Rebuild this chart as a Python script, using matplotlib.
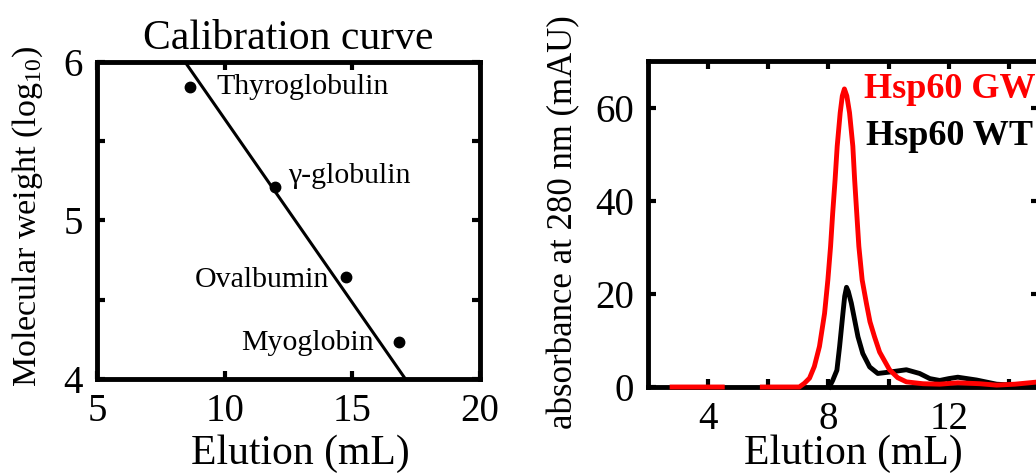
import numpy as np
import matplotlib
matplotlib.use("Agg")
import matplotlib.pyplot as plt

plt.rcParams['font.family'] = ['Liberation Serif', 'DejaVu Serif']
plt.rcParams['mathtext.fontset'] = 'custom'
plt.rcParams['mathtext.rm'] = 'Liberation Serif'

# calibration standards
std_names = ["Thyroglobulin", "γ-globulin", "Ovalbumin", "Myoglobin"]
std_elution = [8.65, 11.98, 14.75, 16.82]
std_logmw = [5.84, 5.21, 4.645, 4.235]
fit_x = [8.45, 17.08]
fit_y = [6.0, 4.0]

# chromatograms
gw_x = [2.8, 4.47, np.nan, 5.8, 7.03, 7.2, 7.37, 7.53, 7.7, 7.87, 7.98, 8.07, 8.14,
        8.22, 8.29, 8.39, 8.46, 8.53, 8.61, 8.7, 8.81, 8.87, 8.94, 9.01, 9.12, 9.26,
        9.38, 9.53, 9.7, 10.03, 10.3, 10.59, 11.14, 11.7, 12.3, 13.03, 13.59, 14.2, 15.0]
gw_y = [0, 0, np.nan, 0, 0, 0.8, 1.9, 4.4, 8.7, 15.8, 23.0, 30.2, 37.3,
        44.5, 51.7, 58.9, 62.5, 64.0, 62.5, 58.9, 51.7, 44.5, 37.3, 30.2, 23.0, 18.0,
        14.0, 10.8, 7.5, 3.7, 2.0, 1.1, 0.7, 0.6, 0.9, 0.7, 0.4, 0.6, 1.1]
wt_x = [8.03, 8.14, 8.28, 8.37, 8.48, 8.54, 8.6, 8.66, 8.76, 8.87, 8.98, 9.14, 9.37,
        9.64, 10.03, 10.59, 11.03, 11.37, 11.7, 12.0, 12.3, 12.92, 13.59, 14.13, 15.0]
wt_y = [0, 1.4, 3.6, 8.7, 15.8, 19.5, 21.4, 20.5, 18.0, 14.4, 10.8, 7.2, 4.3,
        2.9, 3.2, 3.7, 2.9, 1.8, 1.4, 1.8, 2.1, 1.5, 0.6, 0.4, 0.4]

fig = plt.figure(figsize=(10.36, 4.75), dpi=100)
ax1 = fig.add_axes([0.0936, 0.2021, 0.3697, 0.6674])
ax2 = fig.add_axes([0.6255, 0.1853, 0.3774, 0.6863])

for ax in (ax1, ax2):
    for s in ax.spines.values():
        s.set_linewidth(3.5)
    ax.tick_params(which='both', direction='in', top=True, right=True,
                   length=6, width=3, labelsize=28, pad=10)

# left: calibration curve
ax1.plot(fit_x, fit_y, color='black', lw=2.2)
ax1.plot(std_elution, std_logmw, 'o', color='black', ms=7.5)
offsets = [(19, 0, 'left'), (9, 8, 'left'), (-12, -2, 'right'), (-18, -1, 'right')]
for name, x, y, (dx, dy, ha) in zip(std_names, std_elution, std_logmw, offsets):
    ax1.annotate(name, (x, y), xytext=(dx, dy), textcoords='offset points',
                 ha=ha, va='center', fontsize=21.5)
ax1.set_xlim(5, 20)
ax1.set_ylim(4, 6)
ax1.set_xticks([5, 10, 15, 20])
ax1.set_yticks([4, 5, 6])
ax1.set_yticks([4.5, 5.5], minor=True)
ax1.set_title("Calibration curve", fontsize=30, pad=9)
ax1.set_xlabel("Elution (mL)", fontsize=30)
ax1.set_ylabel(r"Molecular weight (log$_{\mathrm{10}}$)", fontsize=24.5)
ax1.xaxis.set_label_coords(0.53, -0.175)
ax1.yaxis.set_label_coords(-0.135, 0.511)

# right: chromatograms
ax2.plot(wt_x, wt_y, color='black', lw=3.5, zorder=3, clip_on=False)
ax2.plot(gw_x, gw_y, color='#ff0000', lw=3.5, zorder=3, clip_on=False)
ax2.set_xlim(2, 15)
ax2.set_ylim(0, 70)
ax2.set_xticks([4, 8, 12])
ax2.set_xticks([6, 10, 14], minor=True)
ax2.set_yticks([0, 20, 40, 60])
ax2.set_xlabel("Elution (mL)", fontsize=30)
ax2.set_ylabel("absorbance at 280 nm (mAU)", fontsize=25)
ax2.xaxis.set_label_coords(0.524, -0.145)
ax2.yaxis.set_label_coords(-0.172, 0.505)
ax2.text(0.553, 0.887, "Hsp60 GW", color='#ff0000', fontsize=26, fontweight='bold',
         transform=ax2.transAxes, va='baseline')
ax2.text(0.557, 0.742, "Hsp60 WT", color='black', fontsize=26, fontweight='bold',
         transform=ax2.transAxes, va='baseline')

fig.savefig("out.png", dpi=100)
